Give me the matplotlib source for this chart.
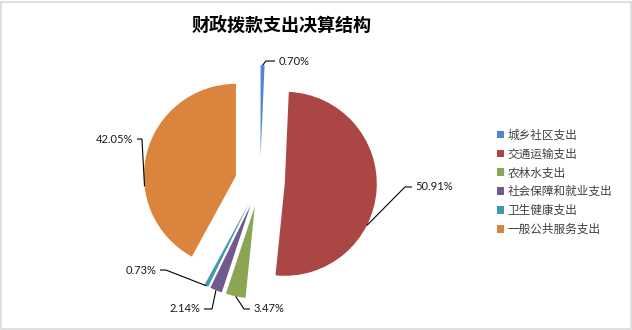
import matplotlib
matplotlib.use("Agg")
import matplotlib.pyplot as plt
from matplotlib.patches import Rectangle
import numpy as np

# ---- data ----
title = "财政拨款支出决算结构"
categories = ["城乡社区支出", "交通运输支出", "农林水支出",
              "社会保障和就业支出", "卫生健康支出", "一般公共服务支出"]
shares = [0.70, 50.91, 3.47, 2.14, 0.73, 42.05]

# ---- styling ----
colors = ["#4F87CF", "#AA4643", "#8BA653", "#71588F", "#4198AF", "#DB843D"]
explode = 0.27

# Leader-line layout per slice (data units, pie radius = 1):
# anchor angle (deg clockwise from 12 o'clock, None = slice middle),
# elbow point, end of horizontal run, text alignment
leader_layout = [
    (None, (0.065, 1.315), (0.163, 1.315), "left"),
    (117.0, (1.576, -0.054), (1.652, -0.054), "left"),
    (None, (-0.174, -1.38), (-0.109, -1.38), "left"),
    (None, (-0.522, -1.38), (-0.609, -1.38), "right"),
    (None, (-1.022, -0.957), (-1.087, -0.957), "right"),
    (263.5, (-1.283, 0.467), (-1.337, 0.467), "right"),
]

W, H = 632, 330
R_PX = 92.0            # pie radius in pixels
CX, CY = 260.0, 182.0  # pie centre in pixels (from top-left)

fig = plt.figure(figsize=(W / 100, H / 100), dpi=100)
fig.patch.set_facecolor("white")

ax = fig.add_axes([0, 0, 1, 1])
wedges, _ = ax.pie(shares, colors=colors, startangle=90, counterclock=False,
                   explode=[explode] * len(shares), radius=1.0,
                   wedgeprops=dict(linewidth=0))
ax.set_xlim(-CX / R_PX, (W - CX) / R_PX)
ax.set_ylim(-(H - CY) / R_PX, CY / R_PX)
ax.set_aspect("auto")
ax.axis("off")

# percentage labels with leader lines
total = sum(shares)
start = 0.0
for v, (ang, elbow, end, ha) in zip(shares, leader_layout):
    span = 360.0 * v / total
    mid = start + span / 2
    a = np.deg2rad(mid if ang is None else ang)
    m = np.deg2rad(mid)
    # centre of the exploded slice plus a point on its arc
    ox, oy = explode * np.sin(m), explode * np.cos(m)
    px, py = ox + np.sin(a), oy + np.cos(a)
    ax.plot([px, elbow[0], end[0]], [py, elbow[1], end[1]],
            color="black", lw=0.8, solid_capstyle="butt")
    dx = 0.04 if ha == "left" else -0.04
    ax.text(end[0] + dx, end[1], f"{v:.2f}%", ha=ha, va="center",
            fontsize=8, family=["Lato", "DejaVu Sans"], color="#1a1a1a")
    start += span

# title
fig.text(282 / W, 1 - 25 / H, title, ha="center", va="center",
         fontsize=13, fontweight="bold",
         family=["Noto Sans CJK SC", "DejaVu Sans"], color="black")

# legend
leg = fig.legend(wedges, categories, loc="upper left",
                 bbox_to_anchor=(492 / W, 1 - 124 / H),
                 frameon=False, handlelength=0.65, handleheight=0.65,
                 handletextpad=0.3, labelspacing=0.5, borderaxespad=0,
                 prop=dict(family=["Noto Sans CJK SC", "DejaVu Sans"], size=8.4))
for t in leg.get_texts():
    t.set_color("#404040")

# chart-area border
fig.patches.append(Rectangle((1 / W, 1 / H), (W - 2.5) / W, (H - 2.5) / H,
                             transform=fig.transFigure, fill=False,
                             edgecolor="#D9D9D9", lw=1.2))

fig.savefig("out.png", dpi=100, facecolor="white")
